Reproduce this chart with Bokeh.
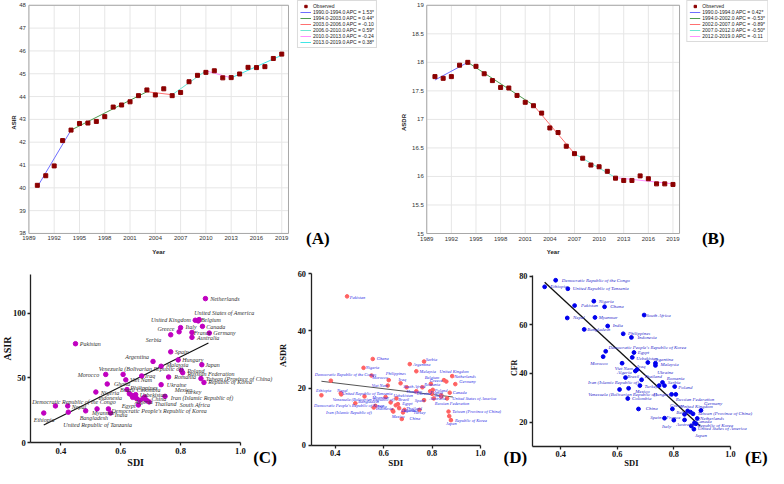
from bokeh.plotting import figure
from bokeh.models import (ColumnDataSource, Legend, LegendItem, Label, Range1d, FixedTicker,
                          PrintfTickFormatter)
from bokeh.layouts import column, row
from bokeh.embed import file_html
from bokeh.resources import INLINE
from bokeh.core.properties import value

SANS = "Liberation Sans"
SERIF = "Liberation Serif"

# ---------------- Joinpoint data (panels A, B) ----------------
years = [1990, 1991, 1992, 1993, 1994, 1995, 1996, 1997, 1998, 1999,
         2000, 2001, 2002, 2003, 2004, 2005, 2006, 2007, 2008, 2009,
         2010, 2011, 2012, 2013, 2014, 2015, 2016, 2017, 2018, 2019]
year_ticks = [1989, 1992, 1995, 1998, 2001, 2004, 2007, 2010, 2013, 2016, 2019]
year_span = (1989, 2019.8)

asir_obs = [40.11, 40.53, 40.96, 42.07, 42.53, 42.82, 42.84, 42.91, 43.12, 43.54,
            43.63, 43.77, 44.04, 44.29, 44.07, 44.34, 44.04, 44.18, 44.65, 44.93,
            45.06, 45.13, 44.82, 44.83, 44.99, 45.28, 45.27, 45.31, 45.67, 45.86]
asir_joint_years = [1990, 1994, 2003, 2006, 2010, 2013, 2019]
asir_joint_fit = [40.04, 42.53, 44.21, 44.08, 45.13, 44.82, 45.81]
asir_seg_labels = ["1990.0-1994.0 APC = 1.53*", "1994.0-2003.0 APC = 0.44*",
                   "2003.0-2006.0 APC = -0.10", "2006.0-2010.0 APC = 0.59*",
                   "2010.0-2013.0 APC = -0.24", "2013.0-2019.0 APC = 0.38*"]
asir_yticks = [38, 39, 40, 41, 42, 43, 44, 45, 46, 47, 48]

asdr_obs = [17.75, 17.72, 17.75, 17.95, 18.00, 17.93, 17.80, 17.68, 17.56, 17.55,
            17.42, 17.30, 17.24, 17.11, 16.85, 16.77, 16.53, 16.40, 16.32, 16.20,
            16.17, 16.09, 15.97, 15.93, 15.93, 16.01, 15.96, 15.87, 15.87, 15.86]
asdr_joint_years = [1990, 1994, 2002, 2007, 2012, 2019]
asdr_joint_fit = [17.69, 18.00, 17.25, 16.40, 15.98, 15.87]
asdr_seg_labels = ["1990.0-1994.0 APC = 0.42*", "1994.0-2002.0 APC = -0.53*",
                   "2002.0-2007.0 APC = -0.89*", "2007.0-2012.0 APC = -0.50*",
                   "2012.0-2019.0 APC = -0.11"]
asdr_yticks = [15, 15.5, 16, 16.5, 17, 17.5, 18, 18.5, 19]
asdr_ytick_labels = ["15", "15.5", "16", "16.5", "17", "17.5", "18", "18.5", "19"]

# ---------------- SDI scatter data (panels C, D, E) ----------------
countries = ["Ethiopia", "Democratic Republic of the Congo", "Nepal", "United Republic of Tanzania",
             "Pakistan", "Bangladesh", "Nigeria", "Myanmar", "Morocco", "Ghana",
             "Democratic People's Republic of Korea", "India", "Venezuela (Bolivarian Republic of)",
             "Viet Nam", "Philippines", "Brazil", "Colombia", "Iran (Islamic Republic of)",
             "Indonesia", "Uzbekistan", "Egypt", "Algeria", "Iraq", "China", "Mexico",
             "Thailand", "South Africa", "Argentina", "Malaysia", "Ukraine", "Turkey",
             "Romania", "Serbia", "Spain", "Hungary", "Greece", "Italy", "Poland",
             "Russian Federation", "France", "Australia", "United Kingdom", "Belgium",
             "United States of America", "Taiwan (Province of China)", "Japan", "Canada",
             "Republic of Korea", "Netherlands", "Germany"]
sdi = [0.343, 0.382, 0.423, 0.425, 0.449, 0.483, 0.517, 0.521, 0.550, 0.555,
       0.559, 0.566, 0.608, 0.617, 0.621, 0.629, 0.637, 0.640, 0.650, 0.653,
       0.659, 0.664, 0.670, 0.675, 0.680, 0.686, 0.695, 0.708, 0.735, 0.735,
       0.748, 0.760, 0.767, 0.767, 0.792, 0.795, 0.800, 0.803, 0.807, 0.838,
       0.838, 0.849, 0.859, 0.862, 0.868, 0.871, 0.873, 0.878, 0.883, 0.896]
asir_sdi = [22.9, 28.4, 28.4, 23.6, 76.4, 24.6, 39.1, 26.1, 52.7, 45.3,
            26.1, 22.9, 52.7, 48.5, 41.0, 37.8, 36.6, 35.0, 37.1, 34.1,
            29.1, 32.8, 51.5, 34.1, 35.3, 32.8, 31.5, 62.7, 59.0, 44.8,
            35.8, 50.7, 83.3, 70.1, 63.9, 85.6, 88.8, 55.7, 54.0, 85.1,
            81.3, 94.5, 94.0, 95.0, 49.5, 60.2, 89.8, 46.5, 111.2, 84.6]
asdr_sdi = [17.5, 22.6, 18.2, 17.8, 52.1, 14.7, 27.1, 17.1, 24.4, 30.2,
            13.2, 13.8, 16.9, 20.9, 22.8, 15.0, 12.2, 11.8, 14.0, 16.4,
            14.4, 13.0, 21.7, 9.2, 11.5, 12.4, 20.3, 28.4, 25.9, 18.9,
            12.4, 20.3, 29.3, 15.8, 18.9, 21.5, 18.0, 19.4, 16.4, 17.5,
            17.0, 22.8, 22.3, 16.4, 11.8, 10.2, 18.4, 8.8, 24.2, 21.4]
cfr_sdi = [75.6, 78.3, 62.8, 74.8, 67.9, 58.1, 69.7, 63.0, 46.9, 67.4,
           49.1, 59.5, 33.4, 44.2, 56.3, 38.3, 29.7, 33.9, 54.8, 46.6,
           48.6, 41.0, 41.6, 25.4, 35.0, 37.4, 64.0, 44.5, 44.2, 43.3,
           35.0, 36.3, 35.0, 21.6, 31.4, 25.4, 20.8, 34.6, 31.4, 23.2,
           20.9, 24.6, 24.1, 18.4, 23.4, 17.1, 19.7, 19.3, 21.5, 24.8]
sdi_ticks = [0.4, 0.6, 0.8, 1.0]
sdi_span = (0.3, 1.0)
# fitted regression line end points (SDI, value)
fit_c_sdi, fit_c_val = [0.343, 0.893], [13.7, 76.9]
fit_d_sdi, fit_d_val = [0.343, 0.886], [22.4, 16.9]
fit_e_sdi, fit_e_val = [0.343, 0.893], [77.5, 18.4]

# ---------------- label placement (pixel offsets, layout only) ----------------
off_c = [(-10, 7.3), (-23.3, -4.3), (4, 0.7), (-5, 12.7), (4.3, 0), (-6, 7.3), (5, 1), (-5, 4.3),
         (-28, 0.3), (6.7, 0), (3, 2), (4.3, 1.7), (-24.3, -5.7), (4.3, 0), (3.3, -1.7), (-9.3, -3.3),
         (5, -5), (38, 0.3), (-37.3, 3), (3.3, -3.3), (-16.7, 1), (-5, 1.7), (3.3, 0), (8.3, 0),
         (30, -7.3), (8.3, 3.3), (30.7, 2.7), (-27.7, -4.3), (5, -1), (5.7, 0), (20, -4.3), (5.7, 0),
         (-25, 5), (4.3, 0), (4, 0), (-21.7, -2.7), (5, -0.7), (5.7, 0), (4.7, 1.2), (1.7, 0.7),
         (5, 0.3), (-44.3, 0), (2.7, -1), (-5, -6.7), (4.7, 0.7), (3.3, 0), (3.7, 0.3), (4.3, 0),
         (4.7, 0), (4, 0.3)]
off_d = [(-5.3, -4.3), (-16, -5.7), (-3.7, -3), (1, -0.7), (2.7, 0.7), (3, -1.3), (2.3, 0), (7.7, 0.7),
         (0.7, 2), (4, -0.7), (-59.7, -1.7), (2, 0.7), (-52.7, 2.3), (-16, 0), (-3, -6.7), (7.7, -3),
         (8.3, 0), (-67.3, 1), (-20, 3), (-3, -3.3), (4.3, -0.7), (3, 2), (-2, -3.3), (7.7, 0),
         (-11.3, 4), (1.7, -1.7), (-3.3, -0.7), (3.3, 0), (3.3, 0), (0.3, 2.7), (-6, 2.7), (2, -3),
         (1.7, -1.7), (-9.3, 0), (-23.7, 0), (-1, -3), (3, 2), (2, 0.7), (1, 5), (-11, -3),
         (-11.7, 2), (-4.3, -8.3), (-21.7, -4), (5.3, 0), (3.7, 0), (-3.3, 7.7), (3, 0.3), (4, 0),
         (2, 0), (4, -2.3)]
off_e = [(5.7, 0), (6, 0), (5.7, 0), (5, 0), (6.3, 0), (3, 0), (5, 0), (3.7, 0), (-13, 7.3), (5.7, 0),
         (2.7, -3.7), (5, 0), (-31.3, 5), (-7.3, 5), (4.7, 0), (1.7, -1), (4.3, 0), (-40.7, -6),
         (6, 0), (4, 1), (3.7, 0), (-18.3, 1.7), (0, -3.3), (7.3, 0), (-4.7, 5.7), (2.7, -3),
         (2, 0), (6, -2.7), (5, 1), (1.7, 6.7), (-14.7, 1), (4.3, -4.3), (3.3, -3.3), (-14.3, -1),
         (-18.3, 0), (-2.3, -3.3), (-11.7, 6), (3.7, 0.7), (0, 5.3), (-18.3, 2.7), (-8.3, 4.7),
         (-7.3, -4.3), (-14.3, 0), (6.3, 2.7), (4.7, -0.7), (1, 6.7), (1.7, -1), (1.7, 1.3),
         (2.7, 0), (3, -6.7)]

TOP_H, BOT_H = 256, 212


def make_fig(width, height, xr, yr):
    p = figure(width=width, height=height, x_range=Range1d(*xr), y_range=Range1d(*yr),
               output_backend="svg", toolbar_location=None,
               min_border_left=0, min_border_right=0, min_border_top=0, min_border_bottom=0)
    p.outline_line_color = None
    p.grid.visible = False
    p.background_fill_color = "white"
    p.border_fill_color = "white"
    return p


def screen_text(p, text, x, y, font, size, style="normal", color="#111111",
                align="center", baseline="middle", angle=0.0, x_units="screen"):
    p.add_layout(Label(x=x, y=y, x_units=x_units, y_units="screen", text=text,
                       text_font=font, text_font_size=size, text_font_style=style,
                       text_color=color, text_align=align, text_baseline=baseline,
                       angle=angle))


def tag(p, text, x, y):
    screen_text(p, text, x, y, SERIF, "17px", "bold", "black", "left", "alphabetic")


def joinpoint_panel(width, xr, yr, ybox, obs, jy, jv, seg_labels, colors, yticks, ylabel,
                    overrides, ylab_x, tag_text, tag_x):
    p = make_fig(width, TOP_H, xr, yr)
    x0, x1 = year_span
    y0, y1 = ybox
    p.segment(x0=year_ticks, y0=[y0] * len(year_ticks), x1=year_ticks, y1=[y1] * len(year_ticks),
              line_color="#e6e6e6", line_width=1)
    p.segment(x0=[x0] * len(yticks), y0=yticks, x1=[x1] * len(yticks), y1=yticks,
              line_color="#e6e6e6", line_width=1)
    p.quad(left=[x0], right=[x1], bottom=[y0], top=[y1], fill_color=None,
           line_color="#a8a8a8", line_width=1)
    p.xaxis.ticker = FixedTicker(ticks=year_ticks)
    p.yaxis.ticker = FixedTicker(ticks=yticks)
    p.xaxis.fixed_location = y0
    p.yaxis.fixed_location = x0
    if overrides:
        p.yaxis.major_label_overrides = overrides
    for ax in p.axis:
        ax.axis_line_color = None
        ax.major_tick_line_color = None
        ax.minor_tick_line_color = None
        ax.major_tick_out = 0
        ax.major_tick_in = 0
        ax.major_label_text_font = SANS
        ax.major_label_text_font_size = "6px"
        ax.major_label_text_color = "#333333"
        ax.major_label_standoff = 3
    seg_renderers = []
    for i in range(len(jy) - 1):
        r = p.line(jy[i:i + 2], jv[i:i + 2], line_color=colors[i], line_width=1)
        seg_renderers.append(r)
    obs_r = p.scatter(years, obs, marker="square", size=4, color="#8b0000")
    items = [LegendItem(label="Observed", renderers=[obs_r])]
    items += [LegendItem(label=l, renderers=[r]) for l, r in zip(seg_labels, seg_renderers)]
    leg = Legend(items=items, location="top_right", label_text_font=SANS,
                 label_text_font_size="5px", label_text_color="#222222",
                 glyph_width=11, glyph_height=6, label_height=6, label_standoff=2,
                 spacing=0, padding=2, margin=0, border_line_color="#b8b8b8",
                 background_fill_color="white", background_fill_alpha=1.0)
    p.add_layout(leg)
    screen_text(p, "Year", (x0 + x1) / 2, 4.6, SANS, "6px", "bold", "#222222", x_units="data")
    screen_text(p, ylabel, ylab_x, 134, SANS, "6px", "bold", "#222222", angle=1.5708)
    tag(p, tag_text, tag_x, 17.7)
    return p


pA = joinpoint_panel(377, (1985.63, 2030.36), (36.99, 48.21), (38, 48),
                     asir_obs, asir_joint_years, asir_joint_fit, asir_seg_labels,
                     ["#6f6fff", "#4f9a4f", "#ff7070", "#6fe6d2", "#ff90ff", "#40e6e6"],
                     asir_yticks, "ASIR", None, 13.7, "(A)", 305.6)
pB = joinpoint_panel(391, (1983.0, 2030.64), (14.597, 19.084), (15, 19),
                     asdr_obs, asdr_joint_years, asdr_joint_fit, asdr_seg_labels,
                     ["#6f6fff", "#4f9a4f", "#ff7070", "#6fe6d2", "#ff90ff"],
                     asdr_yticks, "ASDR", dict(zip(asdr_yticks, asdr_ytick_labels)),
                     26.6, "(B)", 324.4)


def scatter_panel(width, xr, yr, axis_y, ybounds, yticks, vals, offs, color, psize,
                  tcolor, tsize, fx, fy, fcolor, fwidth, ylabel, ylab_x, ylab_y,
                  ylab_size, xlab_size, tick_size):
    p = make_fig(width, BOT_H, xr, yr)
    p.xaxis.ticker = FixedTicker(ticks=sdi_ticks)
    p.xaxis.formatter = PrintfTickFormatter(format="%.1f")
    p.yaxis.ticker = FixedTicker(ticks=yticks)
    p.xaxis.fixed_location = axis_y
    p.yaxis.fixed_location = sdi_span[0]
    p.xaxis.bounds = sdi_span
    p.yaxis.bounds = ybounds
    for ax in p.axis:
        ax.axis_line_color = "#222222"
        ax.axis_line_width = 1.3
        ax.major_tick_line_color = "#222222"
        ax.major_tick_line_width = 1.3
        ax.major_tick_out = 3
        ax.major_tick_in = 0
        ax.minor_tick_line_color = None
        ax.major_label_text_font = SERIF
        ax.major_label_text_font_style = "bold"
        ax.major_label_text_font_size = tick_size
        ax.major_label_text_color = "#111111"
        ax.major_label_standoff = 2
    src = ColumnDataSource(dict(x=sdi, y=vals, name=countries,
                                dx=[o[0] for o in offs], dy=[o[1] for o in offs]))
    p.line(fx, fy, line_color=fcolor, line_width=fwidth)
    p.scatter("x", "y", source=src, size=psize, color=color)
    p.text("x", "y", text="name", source=src, x_offset="dx", y_offset="dy",
           text_font=value(SERIF), text_font_style="italic", text_font_size=value(tsize),
           text_color=tcolor, text_baseline="middle", text_align="left")
    screen_text(p, "SDI", (sdi_span[0] + sdi_span[1]) / 2, 5.8, SERIF, xlab_size, "bold",
                x_units="data")
    screen_text(p, ylabel, ylab_x, ylab_y, SERIF, ylab_size, "bold", angle=1.5708)
    return p


pC = scatter_panel(277, (0.1985, 1.1237), (-19.9, 143.7), 0, (0, 130), [0, 50, 100],
                   asir_sdi, off_c, "#c000c0", 4.5, "#333333", "6px",
                   fit_c_sdi, fit_c_val, "#111111", 1.2, "ASIR", 7.3, 119.9,
                   "10px", "10px", "8.6px")
tag(pC, "(C)", 252.7, 10.7)

pD = scatter_panel(226, (0.1616, 1.0951), (-8.12, 66.05), 0, (0, 60), [0, 20, 40, 60],
                   asdr_sdi, off_d, "#ff6262", 3.6, "#2f2fe6", "4.4px",
                   fit_d_sdi, fit_d_val, "#555555", 1.0, "ASDR", 5.6, 113.1,
                   "8.5px", "9px", "8.3px")

pE = scatter_panel(265, (0.1974, 1.135), (0.93, 88.06), 10, (10, 80.4), [20, 40, 60, 80],
                   cfr_sdi, off_e, "#0000ee", 3.8, "#2a2acc", "4.9px",
                   fit_e_sdi, fit_e_val, "#111111", 1.3, "CFR", 11, 100.6,
                   "8px", "8.5px", "8.3px")
tag(pE, "(D)", 0, 10.7)
tag(pE, "(E)", 241.5, 10.7)

layout = column(row(pA, pB), row(pC, pD, pE))
open("out.html", "w").write(file_html(layout, INLINE))
